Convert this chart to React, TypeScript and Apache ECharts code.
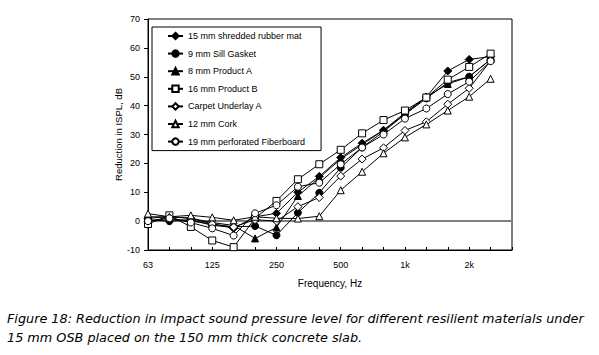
import React, { useEffect, useRef } from "react";
import * as echarts from "echarts";

const frequencies = ["63", "80", "100", "125", "160", "200", "250", "315", "400", "500", "630", "800", "1000", "1250", "1600", "2000", "2500", "3150"];
const labeledFrequencies = ["63", "125", "250", "500", "1000", "2000"];
const tickLabels = ["63", "125", "250", "500", "1k", "2k"];

const rubberMat = [1, 1.5, 1, -1, -2.5, 1.5, 2.7, 10, 15.5, 22, 27, 31.5, 37.5, 43, 52, 56, 57];
const sillGasket = [0.5, 0, 0.5, -1.5, -2, -1.7, -4.9, 2.9, 9.8, 18.5, 25.5, 31, 37, 42.5, 48, 50, 56];
const productA = [1.5, 1.5, 1, -0.5, -1.5, -6, -2.2, 8.7, 15, 21.5, 26.5, 31.5, 37, 43, 47.5, 50, 56];
const productB = [-1, 2, -2, -6.7, -9, 1, 7, 14.5, 19.7, 24.7, 30.4, 35, 38.3, 42.8, 49, 53.4, 58];
const carpetUnderlay = [0, 1, 0, -1, -2, 0.5, 0, 5, 8.2, 15.6, 21.5, 25.4, 31.4, 34.4, 40.5, 46, 55.5];
const cork = [2.6, 1.5, 2, 1.3, 0.3, 1.5, 1, 0.9, 1.7, 10.7, 17.1, 23.5, 29, 33.5, 38.3, 43.1, 49.3];
const fiberboard = [0, 1, -0.5, -2.5, -5, 2.7, 5.5, 11.9, 13.3, 19.7, 25.5, 30, 35.5, 39, 44, 48.3, 55.4];

const seriesNames = [
  "15 mm shredded rubber mat",
  "9 mm Sill Gasket",
  "8 mm Product A",
  "16 mm Product B",
  "Carpet Underlay A",
  "12 mm Cork",
  "19 mm perforated Fiberboard",
];
const seriesData = [rubberMat, sillGasket, productA, productB, carpetUnderlay, cork, fiberboard];
const seriesSymbols = ["diamond", "circle", "triangle", "rect", "diamond", "triangle", "circle"];
const seriesFilled = [true, true, true, false, false, false, false];
const seriesSymbolSizes = [8, 7, 7, 7, 8, 7, 7];

const captionLines = [
  "Figure 18: Reduction in impact sound pressure level for different resilient materials under",
  "15 mm OSB placed on the 150 mm thick concrete slab.",
];

const FONT = "Liberation Sans, Arial, sans-serif";

export default function App() {
  const ref = useRef<HTMLDivElement>(null);
  useEffect(() => {
    if (!ref.current) return;
    const chart = echarts.init(ref.current, undefined, { renderer: "svg" });
    const series: any[] = seriesNames.map((name, i) => ({
      name,
      type: "line",
      data: seriesData[i],
      symbol: seriesSymbols[i],
      symbolSize: seriesSymbolSizes[i],
      showAllSymbol: true,
      lineStyle: { color: "#000", width: 1 },
      itemStyle: {
        color: seriesFilled[i] ? "#000" : "#fff",
        borderColor: "#000",
        borderWidth: 1,
      },
      z: 3,
      ...(i === 0
        ? {
            markLine: {
              silent: true,
              symbol: "none",
              label: { show: false },
              lineStyle: { color: "#808080", width: 2, type: "solid" },
              data: [{ yAxis: 0 }],
              z: 1,
            },
          }
        : {}),
    }));
    chart.setOption({
      animation: false,
      backgroundColor: "#fff",
      grid: {
        left: 148,
        top: 19,
        width: 364,
        height: 231,
        show: true,
        borderColor: "#000",
        borderWidth: 1,
        backgroundColor: "transparent",
      },
      legend: {
        orient: "vertical",
        left: 152,
        top: 27,
        data: seriesNames,
        borderColor: "#000",
        borderWidth: 1,
        backgroundColor: "#fff",
        padding: [4, 16, 4, 15],
        itemWidth: 15,
        itemHeight: 8,
        itemGap: 7.6,
        textStyle: { fontFamily: FONT, fontSize: 9, color: "#000", lineHeight: 10 },
      },
      xAxis: {
        type: "category",
        data: frequencies,
        boundaryGap: false,
        name: "Frequency, Hz",
        nameLocation: "middle",
        nameGap: 28,
        nameTextStyle: { fontFamily: FONT, fontSize: 10, color: "#000" },
        axisLine: { onZero: false, lineStyle: { color: "#000", width: 1 } },
        axisTick: { inside: true, length: 3, interval: 0, lineStyle: { color: "#000" } },
        axisLabel: {
          interval: (_idx: number, value: string) => labeledFrequencies.includes(value),
          formatter: (value: string) => {
            const k = labeledFrequencies.indexOf(value);
            return k >= 0 ? tickLabels[k] : "";
          },
          fontFamily: FONT,
          fontSize: 9,
          color: "#000",
          margin: 10,
        },
        splitLine: { show: false },
      },
      yAxis: {
        type: "value",
        min: -10,
        max: 70,
        interval: 10,
        name: "Reduction in ISPL, dB",
        nameLocation: "middle",
        nameRotate: 90,
        nameGap: 25,
        nameMoveOverlap: false,
        nameTextStyle: { fontFamily: FONT, fontSize: 9.5, color: "#000" },
        axisLine: { show: true, lineStyle: { color: "#000", width: 1 } },
        axisTick: { show: true, inside: false, length: 4, lineStyle: { color: "#000" } },
        axisLabel: { fontFamily: FONT, fontSize: 9, color: "#000", margin: 8 },
        splitLine: { show: false },
      },
      graphic: captionLines.map((text, i) => ({
        type: "text",
        left: 7,
        top: 312 + i * 19,
        style: {
          text,
          fontFamily: "DejaVu Sans",
          fontStyle: "italic",
          fontSize: 12.8,
          fill: "#000",
        },
      })),
      series,
    });
    return () => chart.dispose();
  }, []);
  return (
    <div
      ref={ref}
      style={{ position: "fixed", left: 0, top: 0, width: 599, height: 355 }}
    />
  );
}
